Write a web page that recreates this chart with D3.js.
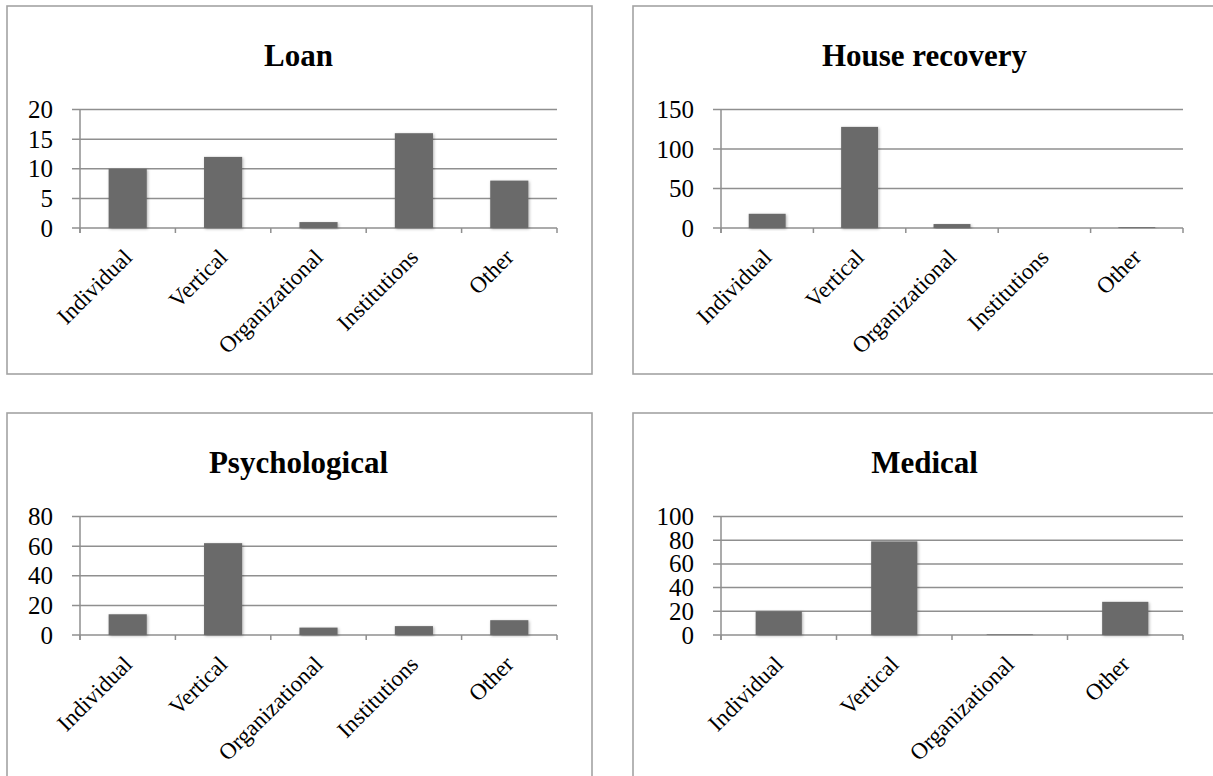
<!DOCTYPE html>
<html>
<head>
<meta charset="utf-8">
<script src="https://cdn.jsdelivr.net/npm/d3@7"></script>
<style>
  html, body { margin: 0; padding: 0; background: #ffffff; }
  svg { display: block; }
</style>
</head>
<body>
<svg id="chart" width="1213" height="776"></svg>
<script>
// Support counts by category, one small bar chart per support type
const categoriesFive = ["Individual", "Vertical", "Organizational", "Institutions", "Other"];
const categoriesFour = ["Individual", "Vertical", "Organizational", "Other"];

const loanValues = [10, 12, 1, 16, 8];
const loanTicks = [0, 5, 10, 15, 20];

const houseValues = [18, 128, 5, 0, 1];
const houseTicks = [0, 50, 100, 150];

const psychValues = [14, 62, 5, 6, 10];
const psychTicks = [0, 20, 40, 60, 80];

const medicalValues = [20, 79, 0.5, 28];
const medicalTicks = [0, 20, 40, 60, 80, 100];

const titles = ["Loan", "House recovery", "Psychological", "Medical"];

const svg = d3.select("#chart");

// soft shadow under the bars
const defs = svg.append("defs");
defs.append("filter")
  .attr("id", "barShadow")
  .attr("x", "-20%").attr("y", "-20%").attr("width", "140%").attr("height", "140%")
  .append("feDropShadow")
  .attr("dx", 1).attr("dy", 1)
  .attr("stdDeviation", 1.4)
  .attr("flood-color", "#000")
  .attr("flood-opacity", 0.3);

const panels = [
  { title: titles[0], cats: categoriesFive, values: loanValues, ticks: loanTicks, x0: 7, y0: 6, axisOffset: 73 },
  { title: titles[1], cats: categoriesFive, values: houseValues, ticks: houseTicks, x0: 633, y0: 6, axisOffset: 88 },
  { title: titles[2], cats: categoriesFive, values: psychValues, ticks: psychTicks, x0: 7, y0: 413, axisOffset: 73 },
  { title: titles[3], cats: categoriesFour, values: medicalValues, ticks: medicalTicks, x0: 633, y0: 413, axisOffset: 88 }
];

const boxW = 585, boxH = 368;
const gridColor = "#8f8f8f";
const barColor = "#6b6b6b";
const serif = "'Liberation Serif', 'DejaVu Serif', serif";

panels.forEach(p => {
  const g = svg.append("g");

  // chart frame
  g.append("rect")
    .attr("x", p.x0).attr("y", p.y0)
    .attr("width", boxW).attr("height", boxH)
    .attr("fill", "none")
    .attr("stroke", "#a3a3a3")
    .attr("stroke-width", 1.6);

  // title
  g.append("text")
    .attr("x", p.x0 + boxW / 2 - 1)
    .attr("y", p.y0 + 60)
    .attr("text-anchor", "middle")
    .attr("font-family", serif)
    .attr("font-weight", "bold")
    .attr("font-size", 31)
    .attr("fill", "#000")
    .text(p.title);

  const left = p.x0 + p.axisOffset;
  const right = p.x0 + 550;
  const top = p.y0 + 103.5;
  const bottom = p.y0 + 222;

  const x = d3.scaleBand()
    .domain(p.cats)
    .range([left, right])
    .paddingInner(0.6)
    .paddingOuter(0.3);

  const y = d3.scaleLinear()
    .domain([0, d3.max(p.ticks)])
    .range([bottom, top]);

  // horizontal gridlines (extend left as tick marks)
  g.append("g").selectAll("line")
    .data(p.ticks)
    .join("line")
    .attr("x1", left - 8)
    .attr("x2", right)
    .attr("y1", d => y(d))
    .attr("y2", d => y(d))
    .attr("stroke", gridColor)
    .attr("stroke-width", 1.5);

  // vertical axis line
  g.append("line")
    .attr("x1", left).attr("x2", left)
    .attr("y1", top).attr("y2", bottom + 5)
    .attr("stroke", gridColor)
    .attr("stroke-width", 1.5);

  // category boundary ticks below the axis
  const step = x.step();
  g.append("g").selectAll("line")
    .data(d3.range(p.cats.length + 1))
    .join("line")
    .attr("x1", i => left + i * step)
    .attr("x2", i => left + i * step)
    .attr("y1", bottom)
    .attr("y2", bottom + 5)
    .attr("stroke", gridColor)
    .attr("stroke-width", 1.5);

  // y tick labels via d3 axis
  const yAxis = d3.axisLeft(y)
    .tickValues(p.ticks)
    .tickSize(0)
    .tickPadding(27)
    .tickFormat(d3.format("d"));
  const ya = g.append("g")
    .attr("transform", `translate(${left},0)`)
    .call(yAxis);
  ya.select(".domain").remove();
  ya.selectAll("text")
    .attr("font-family", serif)
    .attr("font-size", 25)
    .attr("fill", "#000");

  // bars
  g.append("g").selectAll("rect")
    .data(p.cats.map((c, i) => ({ c, v: p.values[i] })))
    .join("rect")
    .attr("x", d => x(d.c))
    .attr("width", x.bandwidth())
    .attr("y", d => y(d.v))
    .attr("height", d => bottom - y(d.v))
    .attr("fill", barColor)
    .attr("filter", d => d.v > 0 ? "url(#barShadow)" : null);

  // rotated category labels
  g.append("g").selectAll("text")
    .data(p.cats)
    .join("text")
    .attr("transform", d => `translate(${x(d) + x.bandwidth() / 2},${bottom + 25}) rotate(-45)`)
    .attr("text-anchor", "end")
    .attr("dy", "0.35em")
    .attr("font-family", serif)
    .attr("font-size", 23)
    .attr("fill", "#000")
    .text(d => d);
});
</script>
</body>
</html>
